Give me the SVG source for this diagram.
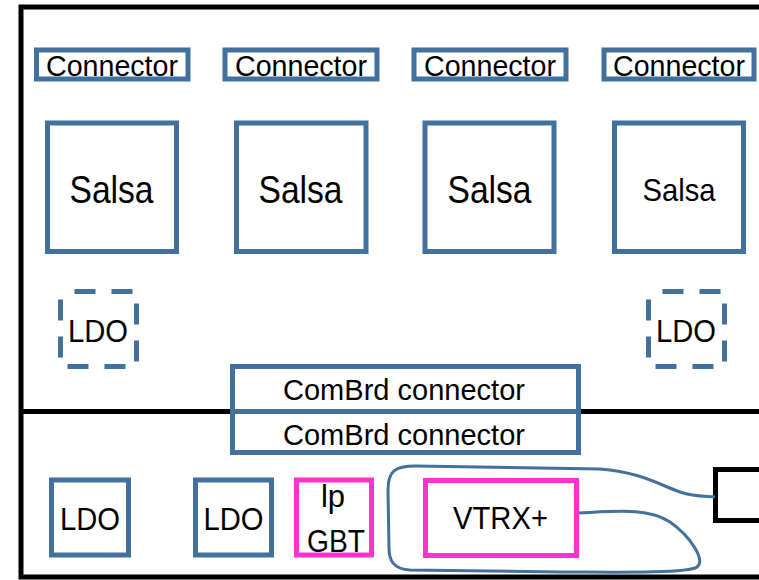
<svg xmlns="http://www.w3.org/2000/svg" width="759" height="580" viewBox="0 0 759 580">
<style>
.bx{fill:#fff;stroke:#41719c;stroke-width:5}
.dash{fill:none;stroke:#41719c;stroke-width:5;stroke-dasharray:21 16;stroke-dashoffset:23}
.pk{fill:#fff;stroke:#ff33cc;stroke-width:5}
.blk{fill:#fff;stroke:#000;stroke-width:5}
text{font-family:"Liberation Sans",Arial,sans-serif;fill:#000;text-anchor:middle}
.t28{font-size:29px}
.t30{font-size:31px}
.t36{font-size:39px}
.t32{font-size:32px}
</style>
<rect width="759" height="580" fill="#fff"/>
<g id="board">
<rect x="21" y="7" width="760" height="570" fill="none" stroke="#000" stroke-width="5"/>
<line x1="21" y1="411.5" x2="759" y2="411.5" stroke="#000" stroke-width="5"/>
</g>
<g id="conn1"><rect class="bx" x="36.5" y="50" width="151.5" height="29"/><text class="t28" x="112" y="76" textLength="132" lengthAdjust="spacingAndGlyphs">Connector</text></g>
<g id="conn2"><rect class="bx" x="225" y="50" width="152" height="29"/><text class="t28" x="301" y="76" textLength="132" lengthAdjust="spacingAndGlyphs">Connector</text></g>
<g id="conn3"><rect class="bx" x="414" y="50" width="152" height="29"/><text class="t28" x="490" y="76" textLength="132" lengthAdjust="spacingAndGlyphs">Connector</text></g>
<g id="conn4"><rect class="bx" x="604" y="50" width="150" height="29"/><text class="t28" x="679" y="76" textLength="132" lengthAdjust="spacingAndGlyphs">Connector</text></g>
<g id="salsa1"><rect class="bx" x="47.5" y="123" width="129" height="128.5"/><text class="t36" x="111.5" y="203" textLength="84" lengthAdjust="spacingAndGlyphs">Salsa</text></g>
<g id="salsa2"><rect class="bx" x="236.5" y="123" width="129.5" height="128.5"/><text class="t36" x="300.5" y="203" textLength="84" lengthAdjust="spacingAndGlyphs">Salsa</text></g>
<g id="salsa3"><rect class="bx" x="425" y="123" width="129" height="128.5"/><text class="t36" x="489.5" y="203" textLength="84" lengthAdjust="spacingAndGlyphs">Salsa</text></g>
<g id="salsa4"><rect class="bx" x="614.5" y="123" width="129" height="128.5"/><text class="t32" x="679" y="201" textLength="73" lengthAdjust="spacingAndGlyphs">Salsa</text></g>
<g id="ldo-top-left"><rect class="dash" x="60.5" y="291.5" width="76" height="75"/><text class="t30" x="98" y="342" textLength="60" lengthAdjust="spacingAndGlyphs">LDO</text></g>
<g id="ldo-top-right"><rect class="dash" x="648.5" y="291.5" width="76" height="75"/><text class="t30" x="686" y="342" textLength="60" lengthAdjust="spacingAndGlyphs">LDO</text></g>
<g id="combrd-upper"><rect class="bx" x="232.5" y="366.5" width="346" height="45"/><text class="t28" x="404" y="400" textLength="242" lengthAdjust="spacingAndGlyphs">ComBrd connector</text></g>
<g id="combrd-lower"><rect class="bx" x="232.5" y="411.5" width="346" height="41"/><text class="t28" x="404" y="445" textLength="242" lengthAdjust="spacingAndGlyphs">ComBrd connector</text></g>
<g id="ldo-bottom-1"><rect class="bx" x="51.5" y="480" width="77" height="75"/><text class="t30" x="90" y="530" textLength="60" lengthAdjust="spacingAndGlyphs">LDO</text></g>
<g id="ldo-bottom-2"><rect class="bx" x="195.5" y="480" width="76" height="75"/><text class="t30" x="233.5" y="530" textLength="60" lengthAdjust="spacingAndGlyphs">LDO</text></g>
<g id="lpgbt"><rect class="pk" x="296.5" y="480" width="75" height="75"/><text class="t30" x="333" y="507">lp</text><text class="t30" x="336" y="552" textLength="58" lengthAdjust="spacingAndGlyphs">GBT</text></g>
<g id="vtrx"><rect class="pk" x="425.5" y="480.5" width="151" height="75"/><text class="t30" x="500.5" y="529" textLength="95" lengthAdjust="spacingAndGlyphs">VTRX+</text></g>
<g id="ext-box"><rect class="blk" x="715.5" y="469.5" width="60" height="51"/></g>
<g id="connectors">
<path d="M579,513 C620,511 648,508 670,522 C690,536 706,560 697,567 C688,574 600,572 560,572 L410,570 C393,569 389,560 389,548 L388,490 C388,471 395,466 415,466 L600,469 C640,472 660,485 680,492 C695,497 705,496 715,497" fill="none" stroke="#41719c" stroke-width="3"/>
</g>
</svg>
